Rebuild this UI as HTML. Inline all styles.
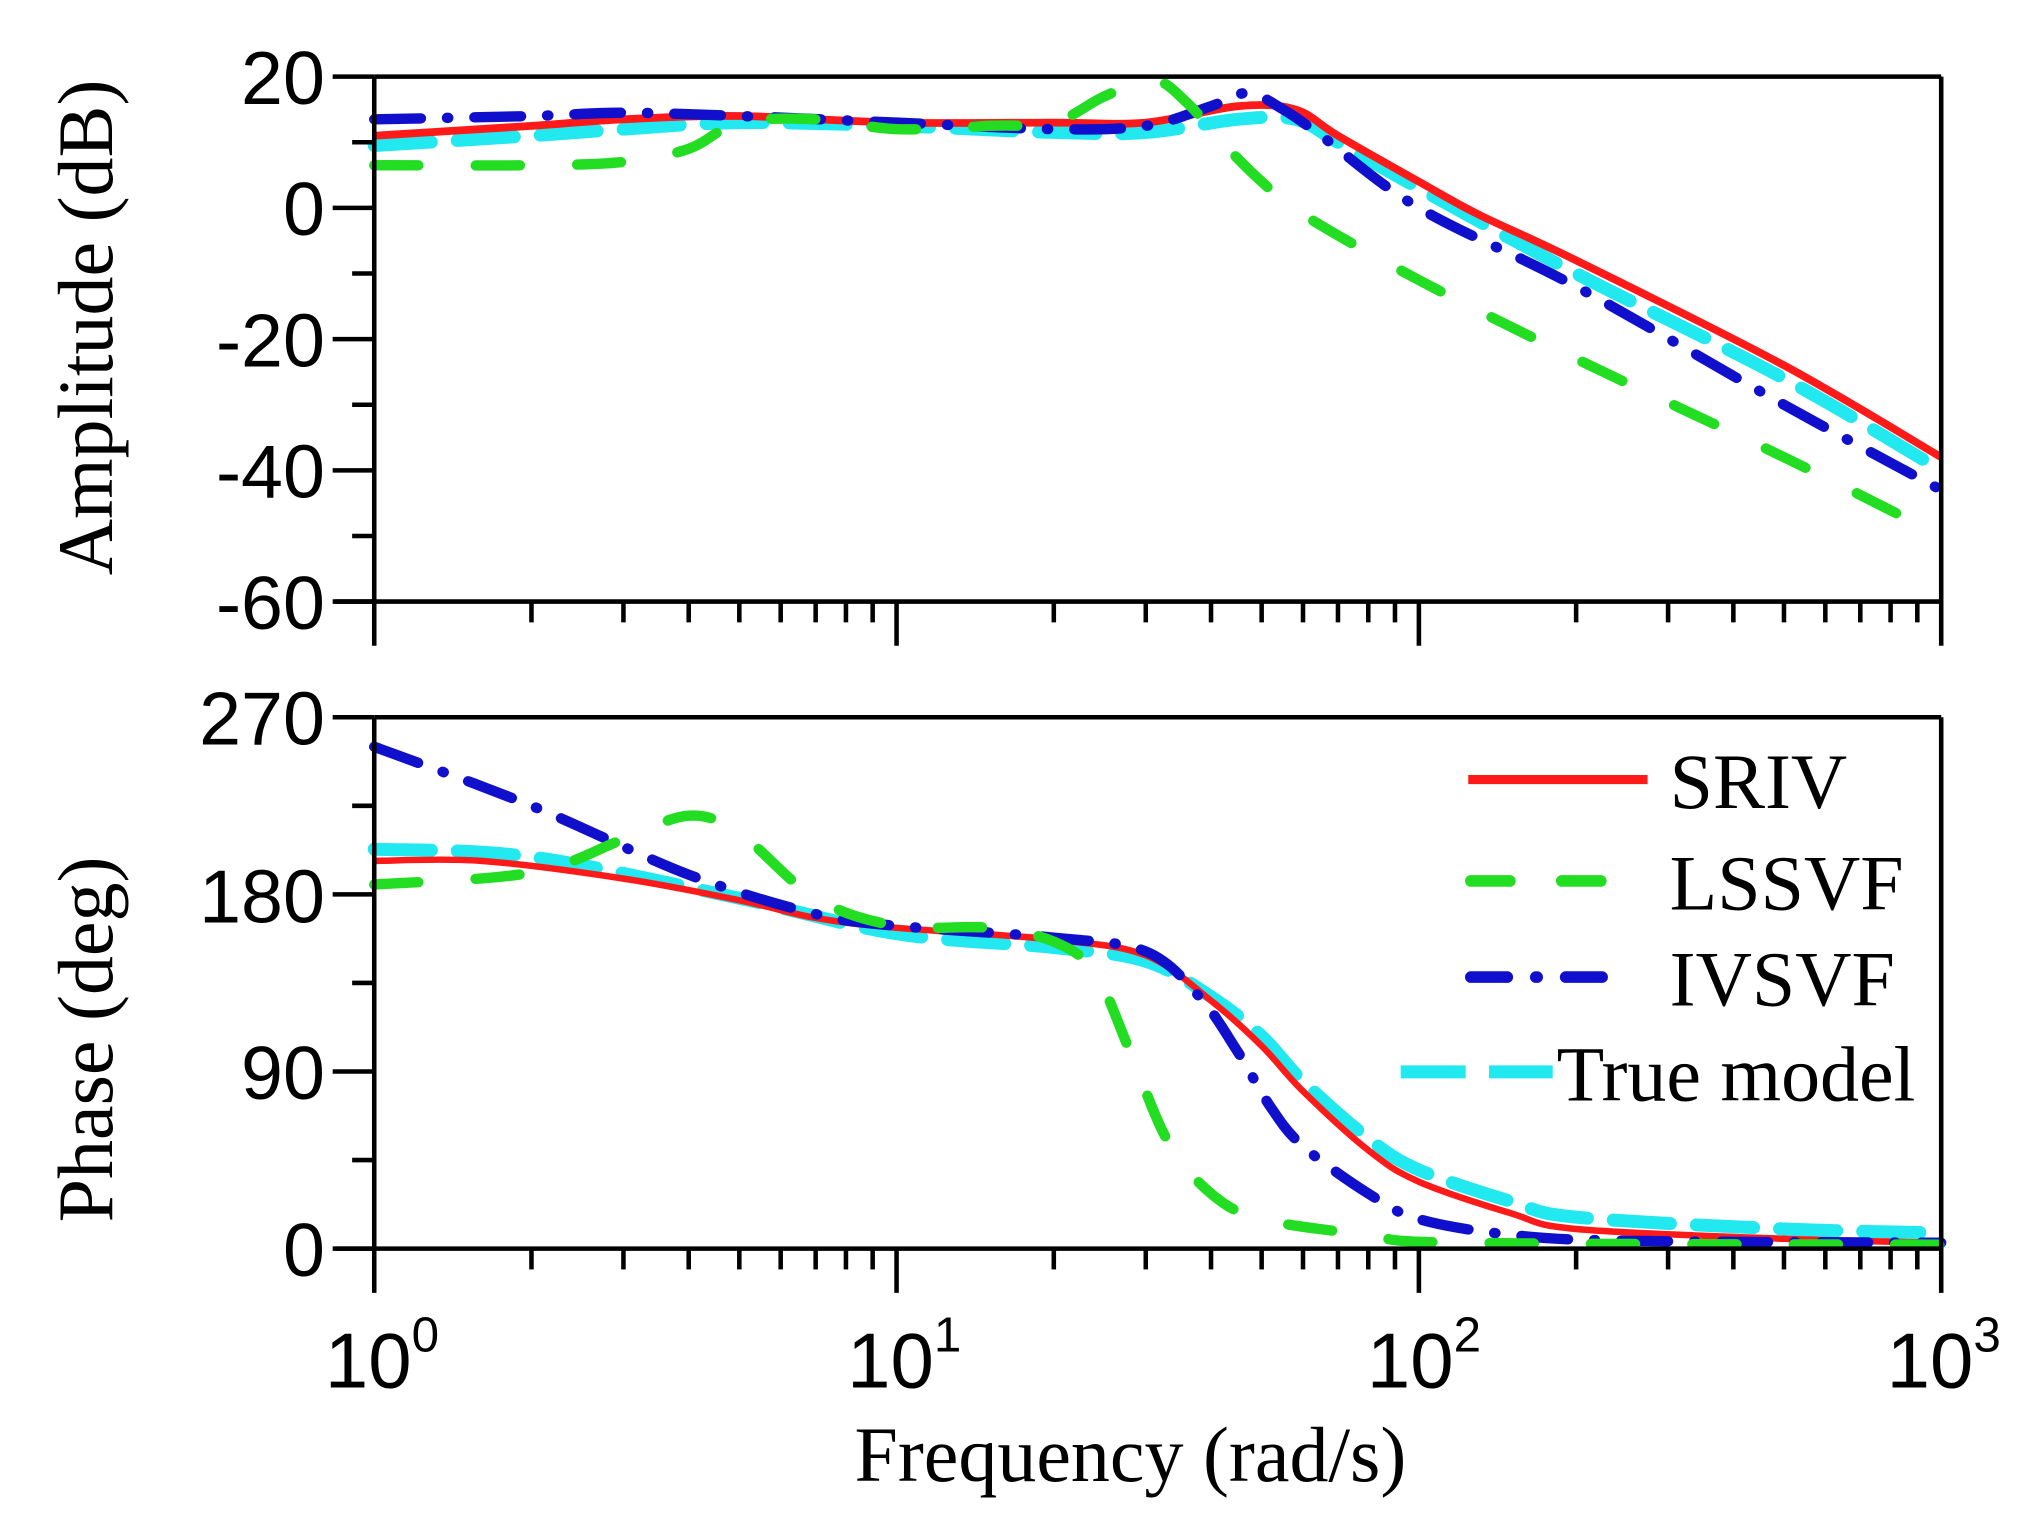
<!DOCTYPE html>
<html><head><meta charset="utf-8">
<style>
html,body{margin:0;padding:0;background:#fff;}
svg{display:block;}
.tk{font-family:"Liberation Sans",Arial,sans-serif;font-size:58px;fill:#000;}
.lb{font-family:"Liberation Serif","Times New Roman",serif;font-size:60px;fill:#000;}
</style></head>
<body>
<svg id="s" width="2027" height="1515" viewBox="0 0 1560 1166" xmlns="http://www.w3.org/2000/svg">
<rect width="1560" height="1166" fill="#fff"/>
<g id="curves"></g>
<g id="axes" stroke="#000" stroke-width="3.5" fill="none"></g>
<!-- y tick labels top -->
<g class="tk" text-anchor="end">
<text x="250" y="80">20</text>
<text x="250" y="181">0</text>
<text x="250" y="282">-20</text>
<text x="250" y="383">-40</text>
<text x="250" y="484">-60</text>
<text x="250" y="573">270</text>
<text x="250" y="710">180</text>
<text x="250" y="846">90</text>
<text x="250" y="982">0</text>
</g>
<g class="tk">
<text x="250" y="1068" font-size="60">10<tspan dy="-28" font-size="38">0</tspan></text>
<text x="652" y="1068" font-size="60">10<tspan dy="-28" font-size="38">1</tspan></text>
<text x="1052" y="1068" font-size="60">10<tspan dy="-28" font-size="38">2</tspan></text>
<text x="1452" y="1068" font-size="60">10<tspan dy="-28" font-size="38">3</tspan></text>
</g>
<text class="lb" x="870" y="1140" text-anchor="middle">Frequency (rad/s)</text>
<text class="lb" transform="translate(86,252) rotate(-90)" text-anchor="middle">Amplitude (dB)</text>
<text class="lb" transform="translate(86,800) rotate(-90)" text-anchor="middle">Phase (deg)</text>
<!-- legend -->
<g>
<line x1="1130" y1="600" x2="1268" y2="600" stroke="#ff1a1a" stroke-width="7"/>
<line x1="1132" y1="678" x2="1250" y2="678" stroke="#22dd22" stroke-width="9" stroke-dasharray="30,40" stroke-linecap="round"/>
<line x1="1132" y1="752" x2="1255" y2="752" stroke="#1010cc" stroke-width="9" stroke-dasharray="28,22,1,22" stroke-linecap="round"/>
<line x1="1078" y1="825" x2="1195" y2="825" stroke="#22e8f0" stroke-width="10" stroke-dasharray="50,18"/>
<g class="lb" font-size="62">
<text x="1285" y="622">SRIV</text>
<text x="1285" y="700">LSSVF</text>
<text x="1285" y="774">IVSVF</text>
<text x="1198" y="847">True model</text>
</g>
</g>
</svg>
<script>
var NS="http://www.w3.org/2000/svg";
function X(f){return 288+402*Math.log10(f);}
function YA(a){return 160-a*5.05;}
function YP(p){return 961-p*409/270;}
var ax=document.getElementById('axes');
function L(x1,y1,x2,y2){var l=document.createElementNS(NS,'line');l.setAttribute('x1',x1);l.setAttribute('y1',y1);l.setAttribute('x2',x2);l.setAttribute('y2',y2);ax.appendChild(l);}
function frame(t,b){
  L(288,t,1494,t);L(1494,t,1494,b+34);L(258,b,1494,b);L(288,t,288,b+34);
}
frame(59,463);frame(552,961);
// y ticks top
for(var a=20;a>=-60;a-=10){var y=YA(a);L(a%20==0?256:271,y,288,y);}
for(var p=0;p<=270;p+=45){var y=YP(p);L(p%90==0?256:271,y,288,y);}
// x ticks
[463,961].forEach(function(b){
 for(var d=0;d<3;d++)for(var m=2;m<=9;m++){var x=X(m*Math.pow(10,d));L(x,b,x,b+16);}
 for(var d=1;d<3;d++){var x=X(Math.pow(10,d));L(x,b,x,b+34);}
});
function path(pts,yf){
  var P=pts.map(function(q){return [X(q[0]),yf(q[1])];});
  var d="M"+P[0][0]+","+P[0][1];
  for(var i=0;i<P.length-1;i++){
    var p0=P[i-1]||P[i],p1=P[i],p2=P[i+1],p3=P[i+2]||P[i+1];
    var c1=[p1[0]+(p2[0]-p0[0])/6,p1[1]+(p2[1]-p0[1])/6];
    var c2=[p2[0]-(p3[0]-p1[0])/6,p2[1]-(p3[1]-p1[1])/6];
    d+=" C"+c1[0]+","+c1[1]+" "+c2[0]+","+c2[1]+" "+p2[0]+","+p2[1];
  }
  return d;
}
var g=document.getElementById('curves');
function draw(pts,yf,col,w,dash){
  var e=document.createElementNS(NS,'path');e.setAttribute('d',path(pts,yf));
  e.setAttribute('fill','none');e.setAttribute('stroke',col);e.setAttribute('stroke-width',w);
  if(dash){e.setAttribute('stroke-dasharray',dash);}
  e.setAttribute('stroke-linecap',dash?'round':'butt');e.setAttribute('stroke-linejoin','round');
  g.appendChild(e);
}
var cy="#22e8f0",rd="#ff1a1a",bl="#1010cc",gr="#22dd22";
// amplitude
var ampG=[[1,6.5],[2,6.5],[3,7],[4,9],[5,13],[7,13.5],[10,12],[15,12.5],[20,13],[25,17],[31,19.5],[36,16],[42,10],[50,4],[60,-1],[100,-11],[200,-23],[500,-38],[1000,-50]];
var ampB=[[1,13.5],[2,14],[3,14.5],[5,14],[10,13],[20,12],[30,12.5],[40,15.5],[47,17.5],[55,15],[65,11],[100,0],[200,-12],[500,-30],[1000,-43]];
var ampR=[[1,11],[2,12.5],[3,13.5],[5,14],[10,13],[20,13],[30,13],[45,15.5],[58,15],[70,11],[100,4],[130,-1],[200,-8],[500,-24],[1000,-38]];
var ampC=[[1,9.5],[2,11],[3,12],[5,13],[10,12.5],[20,11.5],[30,11.5],[45,13.5],[58,13.5],[70,10],[100,3],[200,-10],[500,-26],[1000,-40]];
draw(ampC,YA,cy,10,"44,20");
draw(ampR,YA,rd,6);
draw(ampB,YA,bl,8,"36,20,1,20");
draw(ampG,YA,gr,8,"34,44");
// phase
var phC=[[1,203],[2,199],[5,178],[10,160],[20,153],[30,146],[40,128],[50,108],[60,85],[80,56],[100,40],[150,24],[200,16],[500,10],[1000,8]];
var phR=[[1,197],[1.6,197],[3,188],[5,177],[7,168],[10,163],[20,157],[30,149],[40,126],[50,103],[60,80],[80,50],[100,34],[150,18],[200,10],[500,5],[1000,3]];
var phB=[[1,255],[2,225],[4,190],[7,170],[10,164],[20,158],[30,151],[38,128],[45,100],[52,72],[60,52],[80,28],[100,15],[150,7],[250,4],[1000,3]];
var phG=[[1,185],[2,191],[3,208],[4,220],[5,211],[7,178],[10,164],[15,163],[20,156],[24,140],[28,100],[33,55],[40,28],[50,15],[80,7],[120,3],[1000,2]];
draw(phC,YP,cy,10,"44,20");
draw(phR,YP,rd,5);
draw(phB,YP,bl,8,"36,20,1,20");
draw(phG,YP,gr,8,"34,44");
</script>
</body></html>
